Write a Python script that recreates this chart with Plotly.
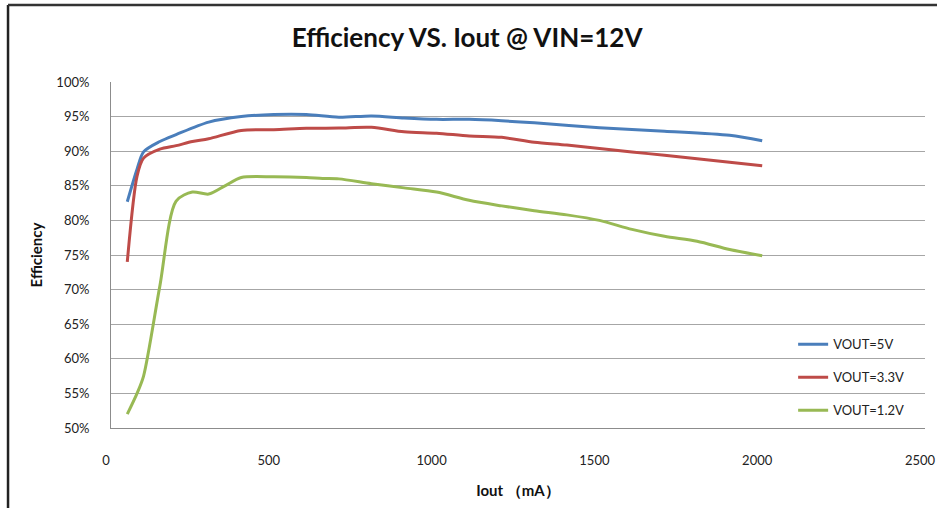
import plotly.graph_objects as go

# Data (Iout in mA, efficiency in %)
x_5v = [50, 80, 100, 150, 200, 300, 400, 500, 600, 700, 800, 900, 1000, 1100, 1200, 1300, 1500, 1700, 1900, 2000]
y_5v = [82.7, 87.4, 89.9, 91.4, 92.4, 94.2, 95.0, 95.3, 95.3, 94.9, 95.1, 94.8, 94.6, 94.6, 94.4, 94.1, 93.4, 92.9, 92.3, 91.5]

x_33v = [50, 80, 100, 150, 200, 250, 300, 400, 500, 600, 700, 800, 900, 1000, 1100, 1200, 1300, 1400, 1500, 1600, 1700, 1800, 1900, 2000]
y_33v = [74.0, 86.4, 89.0, 90.3, 90.8, 91.4, 91.8, 93.0, 93.1, 93.3, 93.35, 93.45, 92.8, 92.6, 92.2, 92.0, 91.3, 90.9, 90.4, 89.9, 89.4, 88.9, 88.4, 87.9]

x_12v = [50, 80, 100, 150, 200, 250, 300, 350, 400, 500, 600, 650, 700, 800, 900, 1000, 1100, 1200, 1300, 1400, 1500, 1600, 1700, 1800, 1900, 2000]
y_12v = [52.0, 55.0, 57.5, 70.5, 82.8, 84.1, 83.8, 85.0, 86.2, 86.3, 86.2, 86.05, 86.0, 85.3, 84.7, 84.1, 82.9, 82.1, 81.4, 80.8, 80.0, 78.7, 77.7, 77.0, 75.8, 74.9]

names = ["VOUT=5V", "VOUT=3.3V", "VOUT=1.2V"]
colors = ["#4A7EBB", "#BE4B48", "#98B954"]
x_ticks = [0, 500, 1000, 1500, 2000, 2500]

FONT = "Lato, Liberation Sans, Arial, sans-serif"

fig = go.Figure()
for i, (xs, ys) in enumerate([(x_5v, y_5v), (x_33v, y_33v), (x_12v, y_12v)]):
    fig.add_trace(go.Scatter(
        x=xs, y=ys, mode="lines", name=names[i], legendgroup=names[i],
        line=dict(color=colors[i], width=3, shape="spline", smoothing=0.8),
    ))

fig.update_layout(
    width=937, height=508,
    margin=dict(l=111, r=12, t=82, b=80, autoexpand=False),
    paper_bgcolor="white", plot_bgcolor="white",
    font=dict(family=FONT, size=13, color="#222"),
    title=dict(text="<b>Efficiency VS. Iout @ VIN=12V</b>", x=0.4985, xanchor="center",
               y=1 - 38 / 508, yref="container", yanchor="middle",
               font=dict(family=FONT, size=26, color="#111")),
    showlegend=True,
    legend=dict(x=0.838, xanchor="left", y=0.285, yanchor="top",
                bgcolor="rgba(0,0,0,0)", tracegroupgap=13,
                font=dict(family=FONT, size=13, color="#222")),
    xaxis=dict(range=[0, 2500], tickvals=x_ticks, showgrid=False, zeroline=False,
               showline=True, linecolor="#8c8c8c", linewidth=1, ticks="",
               ticklabelstandoff=20, ticklabelshift=-5, ticklabeloverflow="allow",
               automargin=False,
               title=dict(text="<b>Iout （mA）</b>", standoff=18,
                          font=dict(family=FONT, size=15, color="#111"))),
    yaxis=dict(range=[50, 100], dtick=5, ticksuffix="%", showgrid=True,
               gridcolor="#a6a6a6", gridwidth=1, zeroline=False,
               showline=True, linecolor="#8c8c8c", linewidth=1, ticks="",
               ticklabelstandoff=18, automargin=False,
               title=dict(text="<b>Efficiency</b>", standoff=10,
                          font=dict(family=FONT, size=15, color="#111"))),
)

# outer frame of the original chart image
fig.add_shape(type="line", xref="paper", yref="paper",
              x0=-0.1265, x1=-0.1265, y0=-0.4, y1=1.2225,
              line=dict(color="#222", width=2.5))
fig.add_shape(type="line", xref="paper", yref="paper",
              x0=-0.1265, x1=1.2, y0=1.2225, y1=1.2225,
              line=dict(color="#333", width=2.5))

fig.write_html("out.html", config={"displayModeBar": False},
               post_script="document.body.style.margin='0';document.body.style.overflow='hidden';")
